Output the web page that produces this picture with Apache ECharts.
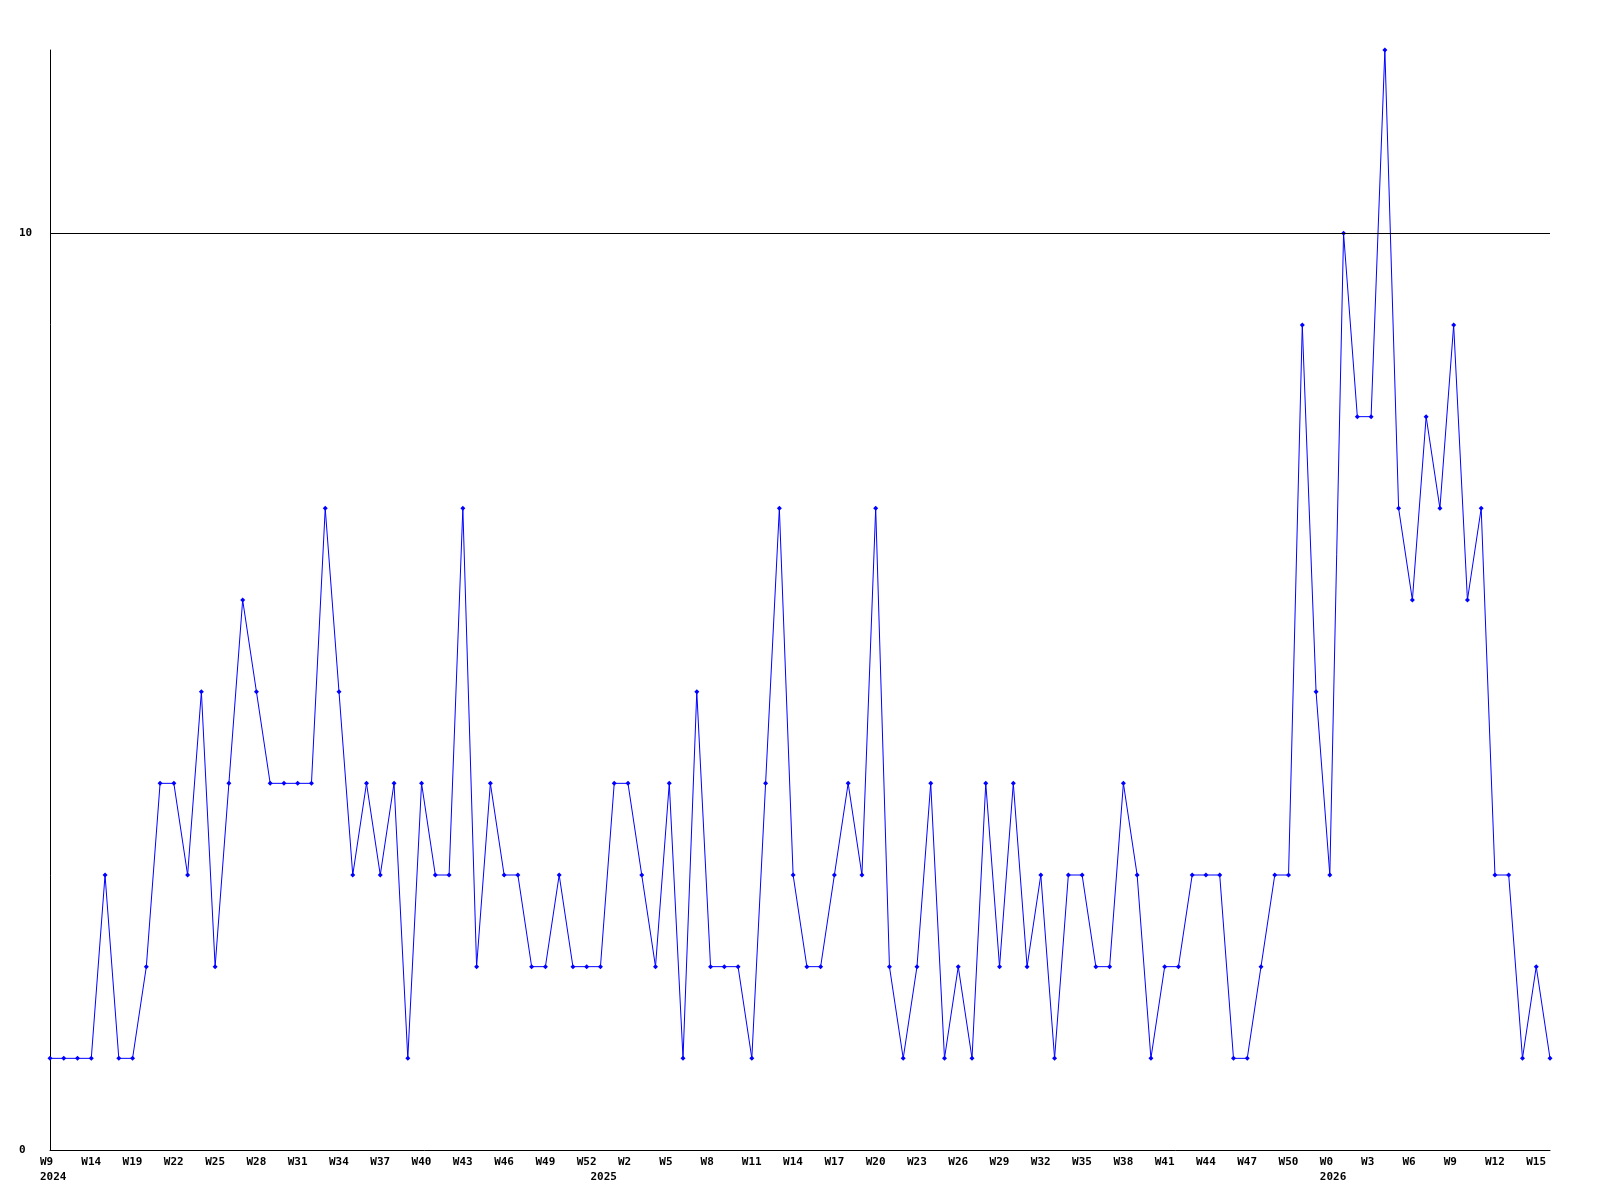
<!DOCTYPE html>
<html>
<head>
<meta charset="utf-8">
<script src="https://cdn.jsdelivr.net/npm/echarts@6/dist/echarts.min.js"></script>
<style>
  html, body { margin: 0; padding: 0; background: #fff; }
  #chart { width: 1600px; height: 1200px; }
</style>
</head>
<body>
<div id="chart"></div>
<script>
// Weekly values (one per point)
const values = [
  1,1,1,1,3,1,1,2,4,4,
  3,5,2,4,6,5,4,4,4,4,
  7,5,3,4,3,4,1,4,3,3,
  7,2,4,3,3,2,2,3,2,2,
  2,4,4,3,2,4,1,5,2,2,
  2,1,4,7,3,2,2,3,4,3,
  7,2,1,2,4,1,2,1,4,2,
  4,2,3,1,3,3,2,2,4,3,
  1,2,2,3,3,3,1,1,2,3,
  3,9,5,3,10,8,8,12,7,6,
  8,7,9,6,7,3,3,1,2,1
];
// Week tick labels, one every third point
const weekLabels = ['W9','W14','W19','W22','W25','W28','W31','W34','W37','W40','W43','W46','W49','W52',
  'W2','W5','W8','W11','W14','W17','W20','W23','W26','W29','W32','W35','W38','W41','W44','W47','W50',
  'W0','W3','W6','W9','W12','W15'];
// Year labels and the point index where each appears
const yearLabels = ['2024','2025','2026'];
const yearIndex = [0, 40, 93];
// Y-axis tick labels shown
const yTicks = [0, 10];
const refLine = 10;

const categories = values.map((_, i) => String(i));

const font = { fontFamily: 'DejaVu Sans Mono', fontWeight: 'bold', fontSize: 11, color: '#000' };

const chart = echarts.init(document.getElementById('chart'), null, { renderer: 'canvas' });
chart.setOption({
  animation: false,
  backgroundColor: '#fff',
  grid: { left: 50, right: 50, top: 50, bottom: 50 },
  xAxis: {
    type: 'category',
    data: categories,
    boundaryGap: false,
    axisLine: { show: true, lineStyle: { color: '#000', width: 1 } },
    axisTick: { show: false },
    splitLine: { show: false },
    axisLabel: Object.assign({}, font, {
      interval: (i) => i % 3 === 0 || yearIndex.indexOf(i) >= 0,
      formatter: (v, i) => {
        const w = i % 3 === 0 ? weekLabels[i / 3] : '';
        const yi = yearIndex.indexOf(i);
        return yi >= 0 ? w + '\n' + yearLabels[yi] : w;
      },
      align: 'left',
      verticalAlign: 'top',
      padding: [0, 0, 0, -10],
      lineHeight: 15,
      margin: 5
    })
  },
  yAxis: {
    type: 'value',
    min: 0,
    max: 12,
    interval: 10,
    axisLine: { show: true, lineStyle: { color: '#000', width: 1 } },
    axisTick: { show: false },
    splitLine: { show: false },
    axisLabel: Object.assign({}, font, {
      formatter: (v) => yTicks.indexOf(v) >= 0 ? String(v) : '',
      align: 'left',
      margin: 31
    })
  },
  series: [{
    type: 'line',
    data: values,
    symbol: 'diamond',
    symbolSize: 5,
    showAllSymbol: true,
    lineStyle: { color: '#0000ff', width: 1 },
    itemStyle: { color: '#0000ff' },
    markLine: {
      silent: true,
      symbol: ['none', 'none'],
      label: { show: false },
      lineStyle: { color: '#000', type: 'solid', width: 1 },
      data: [{ yAxis: refLine }]
    }
  }]
});
</script>
</body>
</html>
